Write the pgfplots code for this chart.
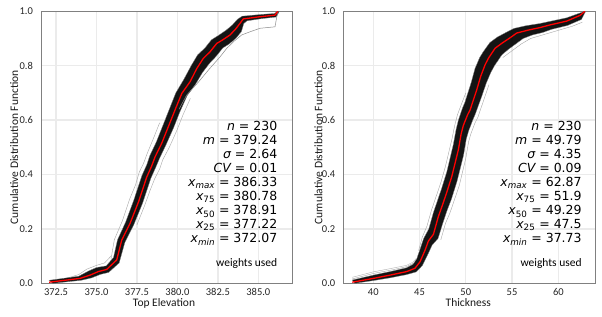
\documentclass[border=0pt]{standalone}
\usepackage{fontspec}
\setmainfont{Carlito}
\newfontfamily\dv{DejaVu Sans}
\usepackage{pgfplots}
\pgfplotsset{compat=1.18}
\pgfplotsset{cdf/.style={
  scale only axis, height=272pt, ymin=0, ymax=1,
  ytick={0,0.2,0.4,0.6,0.8,1},
  yticklabel style={/pgf/number format/fixed, /pgf/number format/fixed zerofill, /pgf/number format/precision=1, xshift=-4.5pt},
  xticklabel style={yshift=-1.5pt},
  grid=major, grid style={color=black!8, line width=1.3pt},
  axis line style={black!50, line width=0.8pt},
  major tick length=0pt,
  /pgf/number format/assume math mode=true,
  tick label style={font=\fontsize{10.5}{12}\selectfont, color=black!85},
  label style={font=\fontsize{11.5}{13}\selectfont, color=black!90},
  ylabel={Cumulative Distribution Function},
  axis background/.style={fill=white},
}}
\newcommand{\st}{\dv\fontsize{12.5}{14}\selectfont}
\begin{document}
\begin{tikzpicture}
% ---------------- Left: Top Elevation ----------------
\begin{axis}[cdf, at={(41pt,32.7pt)}, anchor=south west, width=251pt,
  xmin=371.57, xmax=387.08,
  xtick={372.5,375,377.5,380,382.5,385},
  xticklabel style={/pgf/number format/fixed, /pgf/number format/fixed zerofill, /pgf/number format/precision=1},
  xlabel={Top Elevation},
  xlabel style={at={([yshift=-22.7pt]axis description cs:0.49,0)}, anchor=base, inner sep=0pt},
  ylabel style={at={([xshift=-23pt]axis description cs:0,0.5)}, anchor=base, inner sep=0pt},
]
% soft outer realizations
\addplot[black!35, line width=0.4pt] coordinates {
(375.9,0.09)(376.1,0.16)(376.6,0.23)(377.05,0.31)(377.4,0.36)(377.65,0.41)(377.9,0.44)(378.15,0.48)(378.5,0.53)(378.9,0.59)};
\addplot[black!35, line width=0.4pt] coordinates {
(377.5,0.215)(378.0,0.29)(378.3,0.34)(378.6,0.385)(378.9,0.42)(379.1,0.455)(379.5,0.50)(379.95,0.56)(380.35,0.62)(380.8,0.68)};
\addplot[black!35, line width=0.4pt] coordinates {
(373.0,0.016)(373.9,0.032)(374.4,0.052)(375.0,0.066)(375.5,0.075)(375.9,0.10)};
% band of realizations
\addplot[fill=black, fill opacity=0.92, draw=black!50, line width=0.3pt] coordinates {
(372.07,0.011)(373.9,0.026)(374.5,0.045)(375.0,0.058)(375.6,0.064)(376.05,0.095)(376.3,0.16)
(376.8,0.225)(377.3,0.305)(377.55,0.35)(377.8,0.395)(378.1,0.435)(378.3,0.47)(378.7,0.52)
(379.1,0.58)(379.5,0.64)(379.9,0.70)(380.4,0.75)(380.85,0.80)(381.25,0.84)(381.7,0.865)
(382.1,0.895)(382.5,0.91)(383.0,0.93)(383.4,0.95)(383.7,0.97)(384.0,0.982)(385.1,0.988)
(386.0,0.992)(386.2,1.0)
(386.3,1.0)(386.1,0.979)(385.2,0.973)(384.3,0.965)(384.1,0.955)(383.95,0.925)(383.6,0.90)
(383.2,0.88)(382.8,0.865)(382.4,0.835)(382.0,0.81)(381.55,0.775)(381.1,0.73)(380.6,0.69)
(380.15,0.63)(379.75,0.57)(379.3,0.51)(378.9,0.46)(378.65,0.425)(378.35,0.385)(378.1,0.34)
(377.85,0.295)(377.3,0.215)(376.75,0.15)(376.4,0.075)(375.75,0.040)(375.25,0.033)(374.7,0.020)
(374.05,0.011)(372.3,0.0)
} -- cycle;
% outlier realization
\addplot[black!45, line width=0.5pt] coordinates {
(380.1,0.64)(380.57,0.692)(381.3,0.74)(382.0,0.79)(382.6,0.83)(383.05,0.864)(383.5,0.89)(383.97,0.913)
(384.5,0.925)(385.1,0.9375)(386.03,0.943)(386.2,1.0)};
% base case
\addplot[red, line width=1.3pt] coordinates {
(372.07,0.004)(373.98,0.018)(374.6,0.030)(375.11,0.043)(375.63,0.051)(376.25,0.086)(376.56,0.159)
(377.07,0.220)(377.6,0.300)(377.85,0.345)(378.1,0.390)(378.4,0.430)(378.62,0.465)(379.03,0.515)(379.44,0.576)
(379.85,0.637)(380.27,0.698)(380.78,0.741)(381.2,0.790)(381.6,0.827)(382.0,0.850)(382.43,0.882)(382.8,0.895)(383.25,0.913)
(383.6,0.935)(383.87,0.956)(384.07,0.972)(385.1,0.980)(386.03,0.986)(386.2,1.0)};
\node[anchor=base east, inner sep=0pt, font=\st] at (axis description cs:0.942,0.561) {\itshape n\upshape{} = 230};
\node[anchor=base east, inner sep=0pt, font=\st] at (axis description cs:0.942,0.510) {\itshape m\upshape{} = 379.24};
\node[anchor=base east, inner sep=0pt, font=\st] at (axis description cs:0.942,0.458) {\itshape σ\upshape{} = 2.64};
\node[anchor=base east, inner sep=0pt, font=\st] at (axis description cs:0.942,0.407) {\itshape CV\upshape{} = 0.01};
\node[anchor=base east, inner sep=0pt, font=\st] at (axis description cs:0.942,0.355) {\itshape x\textsubscript{max}\upshape{} = 386.33};
\node[anchor=base east, inner sep=0pt, font=\st] at (axis description cs:0.942,0.304) {\itshape x\upshape\textsubscript{75} = 380.78};
\node[anchor=base east, inner sep=0pt, font=\st] at (axis description cs:0.942,0.252) {\itshape x\upshape\textsubscript{50} = 378.91};
\node[anchor=base east, inner sep=0pt, font=\st] at (axis description cs:0.942,0.201) {\itshape x\upshape\textsubscript{25} = 377.22};
\node[anchor=base east, inner sep=0pt, font=\st] at (axis description cs:0.942,0.149) {\itshape x\textsubscript{min}\upshape{} = 372.07};
\node[anchor=base east, inner sep=0pt, font=\fontsize{11.5}{13}\selectfont] at (axis description cs:0.942,0.061) {weights used};
\end{axis}
% ---------------- Right: Thickness ----------------
\begin{axis}[cdf, at={(343.3pt,32.7pt)}, anchor=south west, width=252.4pt,
  xmin=36.76, xmax=64.04,
  xtick={40,45,50,55,60},
  xlabel={Thickness},
  xlabel style={at={([yshift=-22.7pt]axis description cs:0.495,0)}, anchor=base, inner sep=0pt},
  ylabel style={at={([xshift=-21pt]axis description cs:0,0.5)}, anchor=base, inner sep=0pt},
]
\addplot[black!30, line width=0.4pt] coordinates {
(37.73,0.022)(40.0,0.042)(42.0,0.055)(43.6,0.066)(44.3,0.078)(44.6,0.09)};
\addplot[black!35, line width=0.4pt] coordinates {
(37.73,0.016)(40.0,0.036)(42.0,0.049)(43.6,0.061)(44.4,0.075)};
\addplot[black!35, line width=0.4pt] coordinates {
(44.9,0.12)(45.3,0.17)(45.8,0.21)(46.3,0.27)(46.8,0.32)(47.3,0.37)(47.8,0.43)(48.5,0.53)(48.8,0.58)(49.1,0.62)(49.6,0.665)(50.0,0.70)};
\addplot[black!35, line width=0.4pt] coordinates {
(47.3,0.16)(47.8,0.22)(48.3,0.26)(48.7,0.30)(49.3,0.36)(50.0,0.46)(50.3,0.52)(50.55,0.55)(51.0,0.59)(51.3,0.61)(52.0,0.68)(52.5,0.73)};
\addplot[black!35, line width=0.4pt] coordinates {
(54.0,0.83)(55.0,0.855)(56.0,0.88)(57.0,0.90)(58.5,0.915)(60.0,0.93)(61.5,0.945)(62.6,0.96)};
\addplot[fill=black, fill opacity=0.92, draw=black!50, line width=0.3pt] coordinates {
(37.73,0.012)(40.0,0.030)(41.8,0.043)(43.6,0.057)(44.3,0.07)(44.7,0.09)(45.1,0.13)(45.45,0.165)
(46.0,0.20)(46.5,0.26)(47.0,0.31)(47.4,0.35)(47.95,0.41)(48.65,0.51)(48.95,0.565)(49.2,0.60)
(49.65,0.645)(49.9,0.665)(50.6,0.74)(51.0,0.79)(51.5,0.83)(51.9,0.852)(52.6,0.885)(53.4,0.905)
(54.5,0.925)(55.2,0.937)(56.5,0.947)(58.0,0.955)(59.1,0.963)(60.9,0.976)(62.2,0.992)(62.87,1.0)
(62.95,1.0)(62.5,0.97)(61.0,0.948)(59.3,0.934)(58.3,0.922)(57.2,0.913)(56.2,0.90)(55.6,0.885)
(54.6,0.86)(53.9,0.84)(53.1,0.80)(52.7,0.775)(52.2,0.735)(51.75,0.69)(51.0,0.62)(50.75,0.60)
(50.3,0.56)(50.05,0.53)(49.75,0.47)(49.05,0.375)(48.45,0.31)(48.0,0.27)(47.55,0.225)(47.0,0.165)
(46.35,0.14)(45.95,0.11)(45.3,0.065)(44.65,0.042)(43.6,0.032)(41.8,0.020)(40.0,0.010)(38.0,0.0)
} -- cycle;
\addplot[red, line width=1.3pt] coordinates {
(37.73,0.004)(40.0,0.018)(41.8,0.030)(43.6,0.043)(44.5,0.055)(45.05,0.079)(45.6,0.122)(45.95,0.155)
(46.5,0.180)(47.03,0.245)(47.5,0.290)(47.9,0.330)(48.48,0.392)(49.19,0.490)(49.5,0.550)(49.73,0.580)
(50.2,0.620)(50.46,0.637)(51.18,0.711)(51.6,0.760)(52.08,0.803)(52.44,0.827)(53.16,0.864)(53.88,0.882)
(54.97,0.907)(55.5,0.920)(56.76,0.931)(58.0,0.940)(59.11,0.950)(60.91,0.964)(62.35,0.985)(62.87,1.0)};
\node[anchor=base east, inner sep=0pt, font=\st] at (axis description cs:0.945,0.561) {\itshape n\upshape{} = 230};
\node[anchor=base east, inner sep=0pt, font=\st] at (axis description cs:0.945,0.510) {\itshape m\upshape{} = 49.79};
\node[anchor=base east, inner sep=0pt, font=\st] at (axis description cs:0.945,0.458) {\itshape σ\upshape{} = 4.35};
\node[anchor=base east, inner sep=0pt, font=\st] at (axis description cs:0.945,0.407) {\itshape CV\upshape{} = 0.09};
\node[anchor=base east, inner sep=0pt, font=\st] at (axis description cs:0.945,0.355) {\itshape x\textsubscript{max}\upshape{} = 62.87};
\node[anchor=base east, inner sep=0pt, font=\st] at (axis description cs:0.945,0.304) {\itshape x\upshape\textsubscript{75} = 51.9};
\node[anchor=base east, inner sep=0pt, font=\st] at (axis description cs:0.945,0.252) {\itshape x\upshape\textsubscript{50} = 49.29};
\node[anchor=base east, inner sep=0pt, font=\st] at (axis description cs:0.945,0.201) {\itshape x\upshape\textsubscript{25} = 47.5};
\node[anchor=base east, inner sep=0pt, font=\st] at (axis description cs:0.945,0.149) {\itshape x\textsubscript{min}\upshape{} = 37.73};
\node[anchor=base east, inner sep=0pt, font=\fontsize{11.5}{13}\selectfont] at (axis description cs:0.945,0.061) {weights used};
\end{axis}
\pgfresetboundingbox
\path (0,0) rectangle (602pt,316pt);
\end{tikzpicture}
\end{document}
